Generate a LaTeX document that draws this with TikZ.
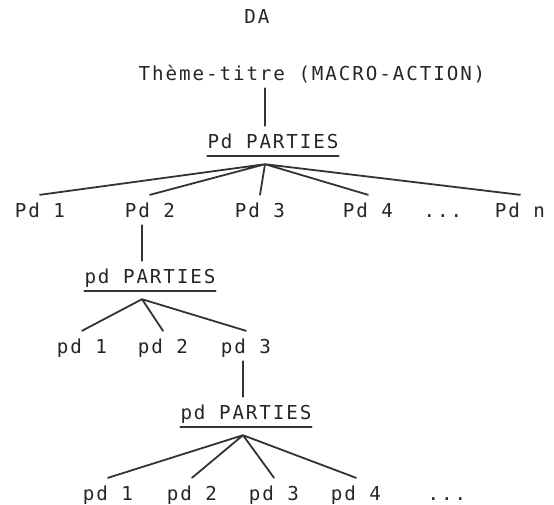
\documentclass[tikz,border=0pt]{standalone}
\usepackage{fontspec}
\newfontfamily\plotfont[LetterSpace=10]{DejaVu Sans Mono}
\begin{document}
\begin{tikzpicture}[x=1pt,y=-1pt,line
				join=round,line
				cap=round,
				txt/.style={font=\plotfont\fontsize{19.2}{23}\selectfont,text=black!85,anchor=base,
					inner xsep=0pt,inner ysep=8pt,text height=14pt,text depth=0pt},
				trait/.style={draw=black!80,line width=1.8pt}]
				\useasboundingbox (0,0) rectangle (554,504);
				% titre
				\node[txt] (da) at (257,23) {DA};
				\node[txt] (theme) at (312,80) {Thème-titre (MACRO-ACTION)};
				% premier niveau
				\node[txt] (pdp) at (273,148) {Pd PARTIES};
				\path ([xshift=-8pt,yshift=-8pt]pdp.south) coordinate (A);
				\node[txt] (P1) at (40,217) {Pd 1};
				\node[txt] (P2) at (150,217) {Pd 2};
				\node[txt] (P3) at (260,217) {Pd 3};
				\node[txt] (P4) at (368,217) {Pd 4};
				\node[txt] (Pdots) at (443,217) {...};
				\node[txt] (Pn) at (520,217) {Pd n};
				\draw[trait] (theme.south -| A)--(A |- pdp.north);
				\draw[trait] (pdp.south west)--(pdp.south east);
				\draw[trait] (A)--(P1.north) (A)--(P2.north)
				(A)--(P3.north) (A)--(P4.north) (A)--(Pn.north);
				% second niveau
				\node[txt] (pdpa) at (150,283) {pd PARTIES};
				\path ([xshift=-8pt,yshift=-8pt]pdpa.south) coordinate (B);
				\node[txt] (pa1) at (82,353) {pd 1};
				\node[txt] (pa2) at (163,353) {pd 2};
				\node[txt] (pa3) at (246,353) {pd 3};
				\draw[trait] (P2.south -| B)--(B |- pdpa.north);
				\draw[trait] (pdpa.south west)--(pdpa.south east);
				\draw[trait] (B)--(pa1.north) (B)--(pa2.north) (B)--(pa3.north);
				% troisieme niveau
				\node[txt] (pdpb) at (246,419) {pd PARTIES};
				\path ([xshift=-3pt,yshift=-8pt]pdpb.south) coordinate (C);
				\node[txt] (pb1) at (108,500) {pd 1};
				\node[txt] (pb2) at (192,500) {pd 2};
				\node[txt] (pb3) at (274,500) {pd 3};
				\node[txt] (pb4) at (356,500) {pd 4};
				\node[txt] (pbdots) at (447,500) {...};
				\draw[trait] (pa3.south -| C)--(C |- pdpb.north);
				\draw[trait] (pdpb.south west)--(pdpb.south east);
				\draw[trait] (C)--(pb1.north) (C)--(pb2.north)
				(C)--(pb3.north) (C)--(pb4.north);
			\end{tikzpicture}
\end{document}
